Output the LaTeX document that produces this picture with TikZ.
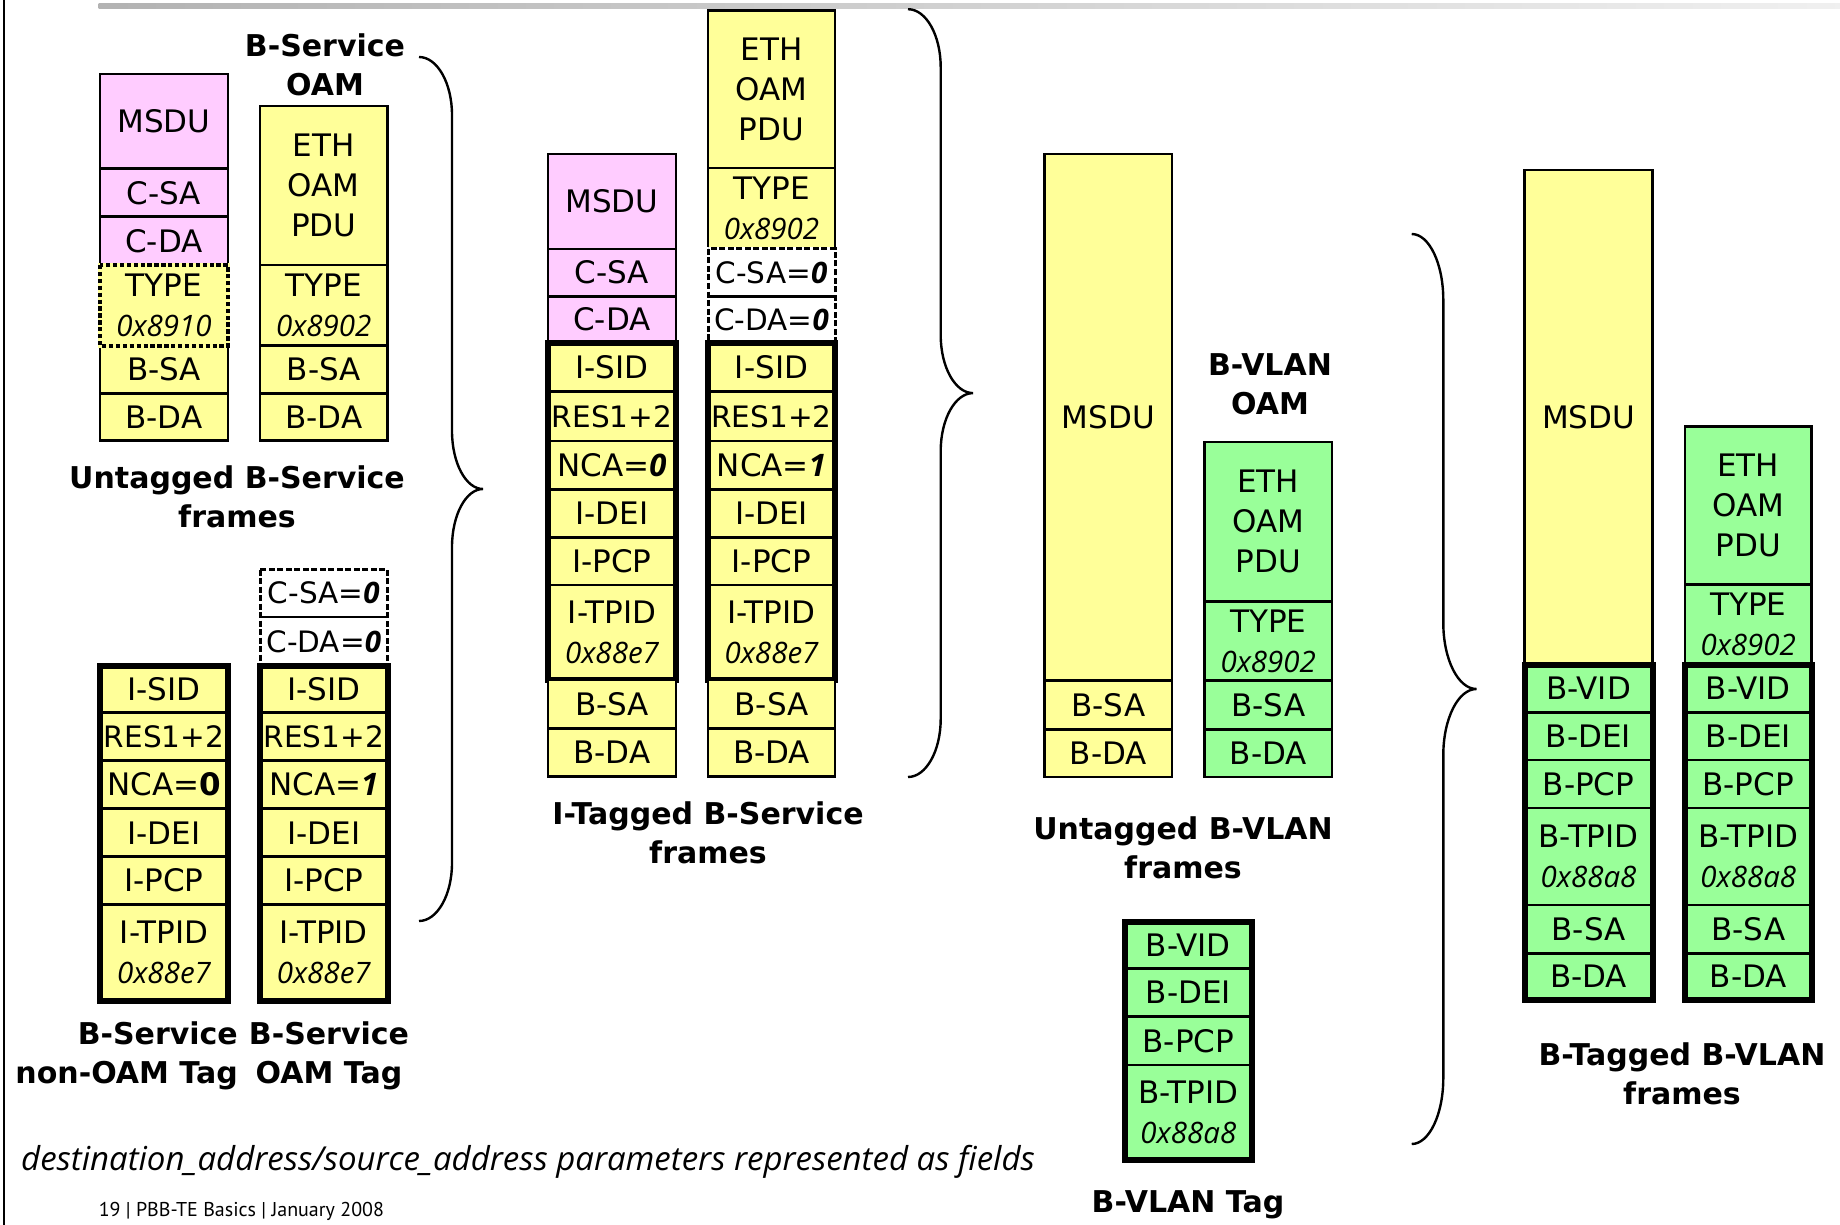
\documentclass[tikz,border=0pt]{standalone}
\usepackage{fontspec}
\setmainfont{DejaVu Sans}
\newfontfamily\hexfont{Open Sans}
\newfontfamily\footfont{PT Sans}
\definecolor{fpink}{HTML}{FFCCFF}
\definecolor{fyellow}{HTML}{FFFF99}
\definecolor{fgreen}{HTML}{99FF99}
\newcommand\fldfont{\fontsize{31}{40}\selectfont}
\newcommand\snugfont{\fontsize{29.5}{40}\selectfont}
\newcommand\lblfont{\fontsize{30}{39}\selectfont\bfseries}
\newcommand\hx[1]{{\hexfont\itshape\fontsize{29.5}{40}\selectfont #1}}
\newcommand\bi[1]{{\hexfont\bfseries\itshape #1}}
% one field of a frame: name, x-left, x-right, y-top, y-bottom, style, text
\newcommand\fld[7]{\node[fieldbox,#6,minimum width={((#3)-(#2))*1pt},minimum height={((#5)-(#4))*1pt}] (#1) at ({((#2)+(#3))/2},{((#4)+(#5))/2}) {#7};}
% curly brace opening to the right: x-ends, x-spine, x-tip, y-top, y-bottom, hook radius
\newcommand\curlybrace[6]{%
  \pgfmathsetmacro\bym{((#4)+(#5))/2}%
  \draw[bracestyle] (#1,#4) .. controls ({#1+0.552*(#2-#1)},#4) and (#2,{#4+#6*0.448}) .. (#2,{#4+#6})
    -- (#2,{\bym-#6}) .. controls (#2,{\bym-#6*0.448}) and ({#3-0.552*(#3-#2)},\bym) .. (#3,\bym)
    .. controls ({#3-0.552*(#3-#2)},\bym) and (#2,{\bym+#6*0.448}) .. (#2,{\bym+#6})
    -- (#2,{#5-#6}) .. controls (#2,{#5-#6*0.448}) and ({#1+0.552*(#2-#1)},#5) .. (#1,#5);}
\tikzset{
  fieldbox/.style={draw=black, line width=2.8pt, inner sep=0pt, outer sep=0pt, align=center, font=\fldfont},
  snug/.style={font=\snugfont},
  pinkf/.style={fill=fpink},
  yelf/.style={fill=fyellow},
  grnf/.style={fill=fgreen},
  whitef/.style={fill=white, draw=none, font=\snugfont},
  dotf/.style={fill=fyellow, draw=none},
  tagline/.style={draw=black, line width=6pt},
  dotline/.style={draw=black, line width=4.3pt, dash pattern=on 4.3pt off 2.6pt},
  dashline/.style={draw=black, line width=3pt, dash pattern=on 6pt off 2.5pt},
  bracestyle/.style={draw=black, line width=2.4pt},
  lblstyle/.style={font=\lblfont, align=center, inner sep=0pt}
}
\begin{document}
\begin{tikzpicture}[x=1pt,y=-1pt]
\useasboundingbox (0,0) rectangle (1840,1225);
% page decorations
\shade[left color=gray!60, right color=gray!12] (98.7,4) rectangle (1840,8.3);
\draw[line width=2.2pt] (4.3,0) -- (4.3,1225);

% ---- untagged B-Service frames
\fld{a1}{100}{228}{74}{168.9}{pinkf}{MSDU}
\fld{a2}{100}{228}{168.9}{216.8}{pinkf}{C-SA}
\fld{a3}{100}{228}{216.8}{265}{pinkf}{C-DA}
\fld{a4}{100}{228}{265}{345.7}{dotf}{TYPE\\\hx{0x8910}}
\fld{a5}{100}{228}{345.7}{393.5}{yelf}{B-SA}
\fld{a6}{100}{228}{393.5}{440.5}{yelf}{B-DA}
\draw[line width=4.3pt, fyellow] (a4.north west) rectangle (a4.south east);
\draw[dotline] (a4.north west) rectangle (a4.south east);

\fld{b1}{260}{387.5}{106}{265}{yelf}{ETH\\OAM\\PDU}
\fld{b2}{260}{387.5}{265}{345.7}{yelf}{TYPE\\\hx{0x8902}}
\fld{b3}{260}{387.5}{345.7}{393.5}{yelf}{B-SA}
\fld{b4}{260}{387.5}{393.5}{440.5}{yelf}{B-DA}

\node[lblstyle] (lblbsoam) at (325,65) {B-Service\\OAM};
\node[lblstyle] (lbluntbs) at (237,497) {Untagged B-Service\\frames};

% ---- B-Service tags
\fld{c1}{100}{228}{666}{712.5}{yelf}{I-SID}
\fld{c2}{100}{228}{712.5}{760.7}{yelf,snug}{RES1+2}
\fld{c3}{100}{228}{760.7}{808.6}{yelf}{NCA=\textbf{0}}
\fld{c4}{100}{228}{808.6}{856.8}{yelf}{I-DEI}
\fld{c5}{100}{228}{856.8}{904.3}{yelf}{I-PCP}
\fld{c6}{100}{228}{904.3}{1000.5}{yelf}{I-TPID\\\hx{0x88e7}}
\draw[tagline] (c1.north west) rectangle (c6.south east);

\fld{d0}{260}{387.5}{569.5}{617}{whitef}{C-SA=\bi{0}}
\fld{d00}{260}{387.5}{617}{666}{whitef}{C-DA=\bi{0}}
\draw[line width=2.8pt] (d0.south west) -- (d0.south east);
\draw[dashline] (d0.north west) rectangle (d00.south east);
\fld{d1}{260}{387.5}{666}{712.5}{yelf}{I-SID}
\fld{d2}{260}{387.5}{712.5}{760.7}{yelf,snug}{RES1+2}
\fld{d3}{260}{387.5}{760.7}{808.6}{yelf}{NCA=\bi{1}}
\fld{d4}{260}{387.5}{808.6}{856.8}{yelf}{I-DEI}
\fld{d5}{260}{387.5}{856.8}{904.3}{yelf}{I-PCP}
\fld{d6}{260}{387.5}{904.3}{1000.5}{yelf}{I-TPID\\\hx{0x88e7}}
\draw[tagline] (d1.north west) rectangle (d6.south east);

\node[lblstyle, align=right, anchor=east] (lbltagn) at (238,1056) {B-Service\\non-OAM Tag};
\node[lblstyle] (lbltago) at (329,1056) {B-Service\\OAM Tag};

\curlybrace{419}{452}{483}{57}{921}{58}

% ---- I-tagged B-Service frames
\fld{e1}{548}{676}{154}{249}{pinkf}{MSDU}
\fld{e2}{548}{676}{249}{296.4}{pinkf}{C-SA}
\fld{e3}{548}{676}{296.4}{343}{pinkf}{C-DA}
\fld{e4}{548}{676}{343}{391.8}{yelf}{I-SID}
\fld{e5}{548}{676}{391.8}{441}{yelf,snug}{RES1+2}
\fld{e6}{548}{676}{441}{489.3}{yelf}{NCA=\bi{0}}
\fld{e7}{548}{676}{489.3}{537.5}{yelf}{I-DEI}
\fld{e8}{548}{676}{537.5}{585}{yelf}{I-PCP}
\fld{e9}{548}{676}{585}{680}{yelf}{I-TPID\\\hx{0x88e7}}
\draw[tagline] (e4.north west) rectangle (e9.south east);
\fld{e10}{548}{676}{680}{728.3}{yelf}{B-SA}
\fld{e11}{548}{676}{728.3}{776.5}{yelf}{B-DA}

\fld{f1}{708}{835}{10.5}{168}{yelf}{ETH\\OAM\\PDU}
\fld{f2}{708}{835}{168}{249}{yelf}{TYPE\\\hx{0x8902}}
\fld{f3}{708}{835}{249}{296.4}{whitef}{C-SA=\bi{0}}
\fld{f4}{708}{835}{296.4}{343}{whitef}{C-DA=\bi{0}}
\draw[line width=2.8pt] (f3.south west) -- (f3.south east);
\draw[line width=3pt, white] (f3.north west) rectangle (f4.south east);
\draw[dashline] (f3.north west) rectangle (f4.south east);
\fld{f5}{708}{835}{343}{391.8}{yelf}{I-SID}
\fld{f6}{708}{835}{391.8}{441}{yelf,snug}{RES1+2}
\fld{f7}{708}{835}{441}{489.3}{yelf}{NCA=\bi{1}}
\fld{f8}{708}{835}{489.3}{537.5}{yelf}{I-DEI}
\fld{f9}{708}{835}{537.5}{585}{yelf}{I-PCP}
\fld{f10}{708}{835}{585}{680}{yelf}{I-TPID\\\hx{0x88e7}}
\draw[tagline] (f5.north west) rectangle (f10.south east);
\fld{f11}{708}{835}{680}{728.3}{yelf}{B-SA}
\fld{f12}{708}{835}{728.3}{776.5}{yelf}{B-DA}

\node[lblstyle] (lblitag) at (708,832.5) {I-Tagged B-Service\\frames};

\curlybrace{908}{940.7}{973}{9.2}{777}{58}

% ---- untagged B-VLAN frames
\fld{g1}{1044.5}{1172}{154}{680.6}{yelf}{MSDU}
\fld{g2}{1044.5}{1172}{680.6}{729.5}{yelf}{B-SA}
\fld{g3}{1044.5}{1172}{729.5}{777}{yelf}{B-DA}

\fld{h1}{1204.5}{1332}{442}{601.5}{grnf}{ETH\\OAM\\PDU}
\fld{h2}{1204.5}{1332}{601.5}{680.6}{grnf}{TYPE\\\hx{0x8902}}
\fld{h3}{1204.5}{1332}{680.6}{729.5}{grnf}{B-SA}
\fld{h4}{1204.5}{1332}{729.5}{777}{grnf}{B-DA}

\node[lblstyle] (lblbvoam) at (1270,384.5) {B-VLAN\\OAM};
\node[lblstyle] (lbluntbv) at (1183,847.5) {Untagged B-VLAN\\frames};

% ---- B-VLAN tag
\fld{k1}{1124.7}{1252}{922}{968.5}{grnf}{B-VID}
\fld{k2}{1124.7}{1252}{968.5}{1016.7}{grnf}{B-DEI}
\fld{k3}{1124.7}{1252}{1016.7}{1065}{grnf}{B-PCP}
\fld{k4}{1124.7}{1252}{1065}{1160}{grnf}{B-TPID\\\hx{0x88a8}}
\draw[tagline] (k1.north west) rectangle (k4.south east);
\node[lblstyle] (lblbvtag) at (1188,1205) {B-VLAN Tag};

\curlybrace{1411.7}{1443.3}{1476.5}{234}{1144}{66}

% ---- B-tagged B-VLAN frames
\fld{i1}{1524.5}{1652.5}{170}{664.5}{yelf}{MSDU}
\fld{i2}{1524.5}{1652.5}{664.5}{712.3}{grnf}{B-VID}
\fld{i3}{1524.5}{1652.5}{712.3}{760}{grnf}{B-DEI}
\fld{i4}{1524.5}{1652.5}{760}{808}{grnf}{B-PCP}
\fld{i5}{1524.5}{1652.5}{808}{905}{grnf}{B-TPID\\\hx{0x88a8}}
\fld{i6}{1524.5}{1652.5}{905}{953.4}{grnf}{B-SA}
\fld{i7}{1524.5}{1652.5}{953.4}{999.5}{grnf}{B-DA}
\draw[tagline] (i2.north west) rectangle (i7.south east);

\fld{j1}{1685}{1811.5}{426.5}{584.7}{grnf}{ETH\\OAM\\PDU}
\fld{j2}{1685}{1811.5}{584.7}{664.5}{grnf}{TYPE\\\hx{0x8902}}
\fld{j3}{1685}{1811.5}{664.5}{712.3}{grnf}{B-VID}
\fld{j4}{1685}{1811.5}{712.3}{760}{grnf}{B-DEI}
\fld{j5}{1685}{1811.5}{760}{808}{grnf}{B-PCP}
\fld{j6}{1685}{1811.5}{808}{905}{grnf}{B-TPID\\\hx{0x88a8}}
\fld{j7}{1685}{1811.5}{905}{953.4}{grnf}{B-SA}
\fld{j8}{1685}{1811.5}{953.4}{999.5}{grnf}{B-DA}
\draw[tagline] (j3.north west) rectangle (j8.south east);

\node[lblstyle] (lblbtag) at (1682,1073.7) {B-Tagged B-VLAN\\frames};

% ---- notes
\node[anchor=west, inner sep=0pt, font=\hexfont\itshape\fontsize{33}{38}\selectfont] (note) at (21,1162) {destination\_address/source\_address parameters represented as fields};
\node[anchor=west, inner sep=0pt, font=\footfont\fontsize{20}{24}\selectfont] (footer) at (98.6,1211) {19 | PBB-TE Basics | January 2008};
\end{tikzpicture}
\end{document}
